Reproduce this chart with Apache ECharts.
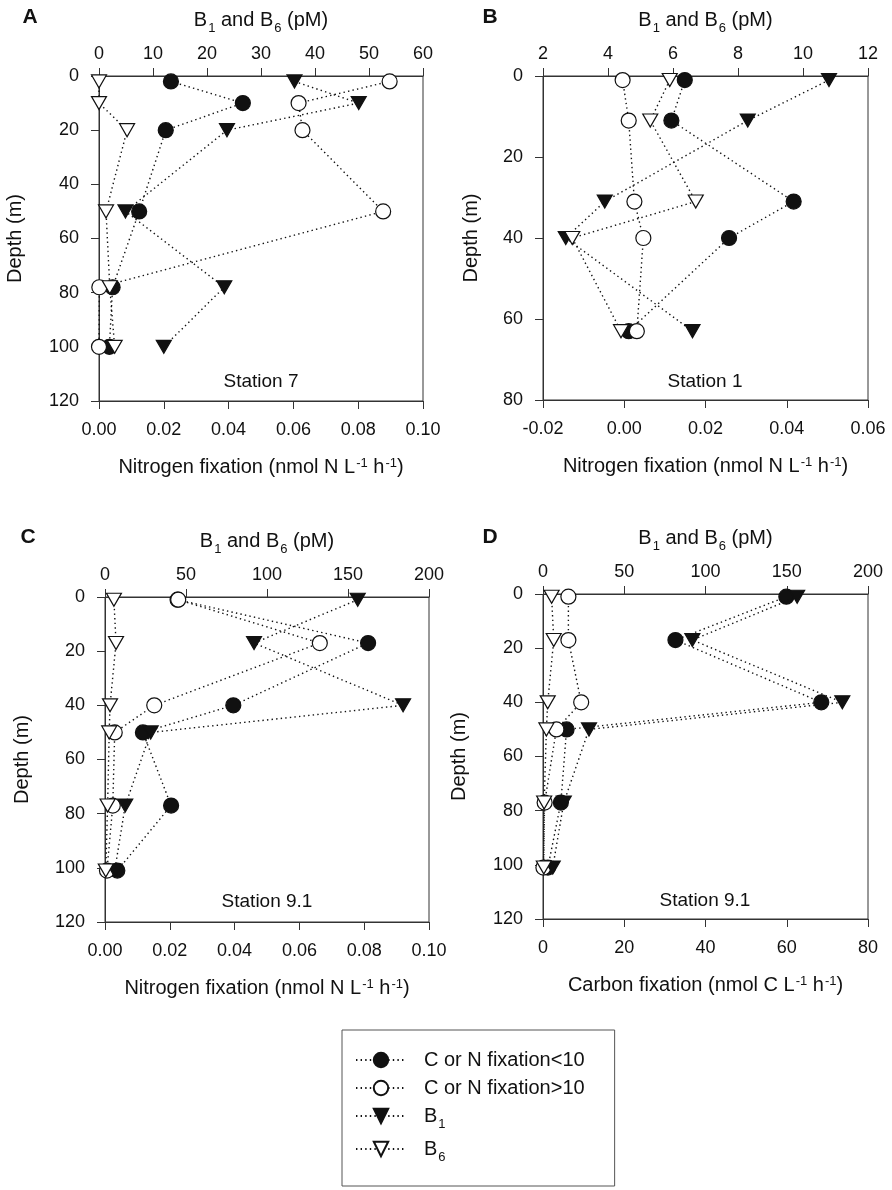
<!DOCTYPE html>
<html>
<head>
<meta charset="utf-8">
<script src="https://cdn.jsdelivr.net/npm/echarts@6/dist/echarts.min.js"></script>
<style>
html, body { margin: 0; padding: 0; background: #fff; }
#chart { width: 892px; height: 1190px; }
</style>
</head>
<body>
<div id="chart"></div>
<script>
// Panel A, station 7
const depthA = [2, 10, 20, 50, 78, 100];
const fixSmallA = [0.0222, 0.0444, 0.0206, 0.0124, 0.0042, 0.0032];
const fixLargeA = [0.0897, 0.0616, 0.0628, 0.0877, 0.0001, 0.0];
const b1A = [36.2, 48.1, 23.7, 4.9, 23.2, 12.0];
const b6A = [0.0, 0.0, 5.2, 1.3, 2.0, 2.9];

// Panel B, station 1
const depthB = [1, 11, 31, 40, 63];
const fixSmallB = [0.0149, 0.0116, 0.0417, 0.0258, 0.0011];
const fixLargeB = [-0.0004, 0.0011, 0.0025, 0.0047, 0.0031];
const b1B = [10.8, 8.3, 3.9, 2.7, 6.6];
const b6B = [5.9, 5.3, 6.7, 2.9, 4.4];

// Panel C, station 9.1 (nitrogen)
const depthC = [1, 17, 40, 50, 77, 101];
const fixSmallC = [0.0224, 0.0812, 0.0396, 0.0117, 0.0204, 0.0038];
const fixLargeC = [0.0226, 0.0663, 0.0152, 0.0030, 0.0024, 0.0006];
const b1C = [156, 92, 184, 28.2, 12.5, 6];
const b6C = [5.5, 6.8, 3.1, 2.6, 1.6, 0.5];

// Panel D, station 9.1 (carbon)
const depthD = [1, 17, 40, 50, 77, 101];
const fixSmallD = [59.9, 32.6, 68.5, 5.8, 4.4, 1.2];
const fixLargeD = [6.25, 6.25, 9.4, 3.3, 0.4, 0.1];
const b1D = [156.4, 91.9, 184.2, 28.3, 12.8, 6];
const b6D = [5.3, 6.6, 2.9, 2.1, 0.7, 0.5];

const panelLetters = ["A", "B", "C", "D"];
const stationNames = ["Station 7", "Station 1", "Station 9.1", "Station 9.1"];
const seriesNames = ["C or N fixation<10", "C or N fixation>10", "B1", "B6"];

// axis ranges: [min, max, interval]
const depthRanges = [[0, 120, 20], [0, 80, 20], [0, 120, 20], [0, 120, 20]];
const fixRanges = [[0, 0.1, 0.02], [-0.02, 0.06, 0.02], [0, 0.1, 0.02], [0, 80, 20]];
const vitRanges = [[0, 60, 10], [2, 12, 2], [0, 200, 50], [0, 200, 50]];

const panels = [
    { depth: depthA, small: fixSmallA, large: fixLargeA, b1: b1A, b6: b6A },
    { depth: depthB, small: fixSmallB, large: fixLargeB, b1: b1B, b6: b6B },
    { depth: depthC, small: fixSmallC, large: fixLargeC, b1: b1C, b6: b6C },
    { depth: depthD, small: fixSmallD, large: fixLargeD, b1: b1D, b6: b6D }
];

const grids = [
    { left: 99, top: 76, width: 324, height: 325 },
    { left: 543, top: 76, width: 325, height: 324 },
    { left: 105, top: 597, width: 324, height: 325 },
    { left: 543, top: 594, width: 325, height: 325 }
];
const depthNameGaps = [74, 62, 73, 74];
const stationPos = [[261, 382], [705, 382], [267, 902], [705, 901]];
const letterPos = [[30, 17], [490, 17], [28, 537], [490, 537]];

const FONT = "'Liberation Sans', Arial, sans-serif";
const INK = "#111";
const AXIS = "#333";

const rich = {
    t: { fontSize: 20, lineHeight: 20, verticalAlign: "top", fontFamily: FONT, color: INK },
    sub: { fontSize: 13, lineHeight: 13, verticalAlign: "top", padding: [12, 0, 0, 1], fontFamily: FONT, color: INK },
    sup: { fontSize: 13, lineHeight: 13, verticalAlign: "top", padding: [0, 0, 0, 1], fontFamily: FONT, color: INK }
};

const axisBase = {
    axisLine: { show: true, onZero: false, lineStyle: { color: AXIS, width: 1 } },
    axisTick: { show: true, length: 8, lineStyle: { color: AXIS, width: 1 } },
    splitLine: { show: false },
    nameMoveOverlap: false
};

function fixLabel(panelIndex) {
    return value => {
        if (panelIndex === 3) {
            return String(Math.round(value));
        }
        if (Math.abs(value) < 1e-9) {
            return "0.00";
        }
        return value.toFixed(2);
    };
}

const xAxes = [];
const yAxes = [];
const series = [];

panels.forEach((panel, i) => {
    const fr = fixRanges[i];
    const vr = vitRanges[i];
    const dr = depthRanges[i];

    const fixName = i === 3
        ? "{t|Carbon fixation (nmol C L}{sup|-1}{t| h}{sup|-1}{t|)}"
        : "{t|Nitrogen fixation (nmol N L}{sup|-1}{t| h}{sup|-1}{t|)}";

    xAxes.push(Object.assign({}, axisBase, {
        type: "value",
        gridIndex: i,
        position: "bottom",
        min: fr[0],
        max: fr[1],
        interval: fr[2],
        name: fixName,
        nameLocation: "middle",
        nameGap: 56,
        nameTextStyle: { rich: rich },
        axisLabel: {
            margin: 20,
            fontSize: 18,
            fontFamily: FONT,
            color: INK,
            showMinLabel: true,
            showMaxLabel: true,
            formatter: fixLabel(i)
        }
    }));

    xAxes.push(Object.assign({}, axisBase, {
        type: "value",
        gridIndex: i,
        position: "top",
        min: vr[0],
        max: vr[1],
        interval: vr[2],
        name: "{t|B}{sub|1}{t| and B}{sub|6}{t| (pM)}",
        nameLocation: "middle",
        nameGap: 46,
        nameTextStyle: { rich: rich },
        axisLabel: {
            margin: 13,
            fontSize: 18,
            fontFamily: FONT,
            color: INK,
            showMinLabel: true,
            showMaxLabel: true
        }
    }));

    yAxes.push(Object.assign({}, axisBase, {
        type: "value",
        gridIndex: i,
        position: "left",
        inverse: true,
        min: dr[0],
        max: dr[1],
        interval: dr[2],
        name: "Depth (m)",
        nameLocation: "middle",
        nameGap: depthNameGaps[i],
        nameTextStyle: { fontSize: 20, fontFamily: FONT, color: INK },
        axisLabel: {
            margin: 20,
            fontSize: 18,
            fontFamily: FONT,
            color: INK,
            showMinLabel: true,
            showMaxLabel: true
        }
    }));

    const styles = [
        { values: panel.small, axis: 0, symbol: "circle", size: 15, fill: INK, rotate: 0 },
        { values: panel.large, axis: 0, symbol: "circle", size: 15, fill: "#fff", rotate: 0 },
        { values: panel.b1, axis: 1, symbol: "triangle", size: [15, 13], fill: INK, rotate: 180 },
        { values: panel.b6, axis: 1, symbol: "triangle", size: [15, 13], fill: "#fff", rotate: 180 }
    ];

    styles.forEach((s, k) => {
        series.push({
            name: seriesNames[k],
            type: "line",
            xAxisIndex: i * 2 + s.axis,
            yAxisIndex: i,
            data: panel.depth.map((d, j) => [s.values[j], d]),
            symbol: s.symbol,
            symbolSize: s.size,
            symbolRotate: s.rotate,
            showAllSymbol: true,
            animation: false,
            lineStyle: { color: INK, width: 1.4, type: [1.4, 3.2] },
            itemStyle: { color: s.fill, borderColor: INK, borderWidth: 1.2, opacity: 1 },
            emphasis: { disabled: true },
            z: 2 + k
        });
    });
});

const graphics = [];
panelLetters.forEach((letter, i) => {
    graphics.push({
        type: "text",
        x: letterPos[i][0],
        y: letterPos[i][1],
        style: {
            text: letter,
            font: "bold 21px " + FONT,
            fill: INK,
            align: "center",
            verticalAlign: "middle",
            textAlign: "center",
            textVerticalAlign: "middle"
        }
    });
    graphics.push({
        type: "text",
        x: stationPos[i][0],
        y: stationPos[i][1],
        style: {
            text: stationNames[i],
            font: "19px " + FONT,
            fill: INK,
            align: "center",
            verticalAlign: "middle",
            textAlign: "center",
            textVerticalAlign: "middle"
        }
    });
});

const chart = echarts.init(document.getElementById("chart"), null, { renderer: "canvas" });

chart.setOption({
    animation: false,
    backgroundColor: "#fff",
    grid: grids.map(g => Object.assign({
        show: true,
        borderColor: AXIS,
        borderWidth: 1,
        backgroundColor: "transparent",
        containLabel: false,
        outerBoundsMode: "none"
    }, g)),
    xAxis: xAxes,
    yAxis: yAxes,
    series: series,
    graphic: graphics,
    legend: {
        orient: "vertical",
        left: 342,
        top: 1030,
        padding: [20, 30, 22, 13],
        borderColor: "#555",
        borderWidth: 1,
        itemWidth: 50,
        itemHeight: 18,
        itemGap: 8,
        selectedMode: false,
        data: seriesNames,
        formatter: name => {
            if (name === "B1") return "{t|B}{sub|1}";
            if (name === "B6") return "{t|B}{sub|6}";
            return "{t|" + name + "}";
        },
        textStyle: {
            padding: [0, 0, 0, 13],
            rich: rich
        }
    }
});
</script>
</body>
</html>
